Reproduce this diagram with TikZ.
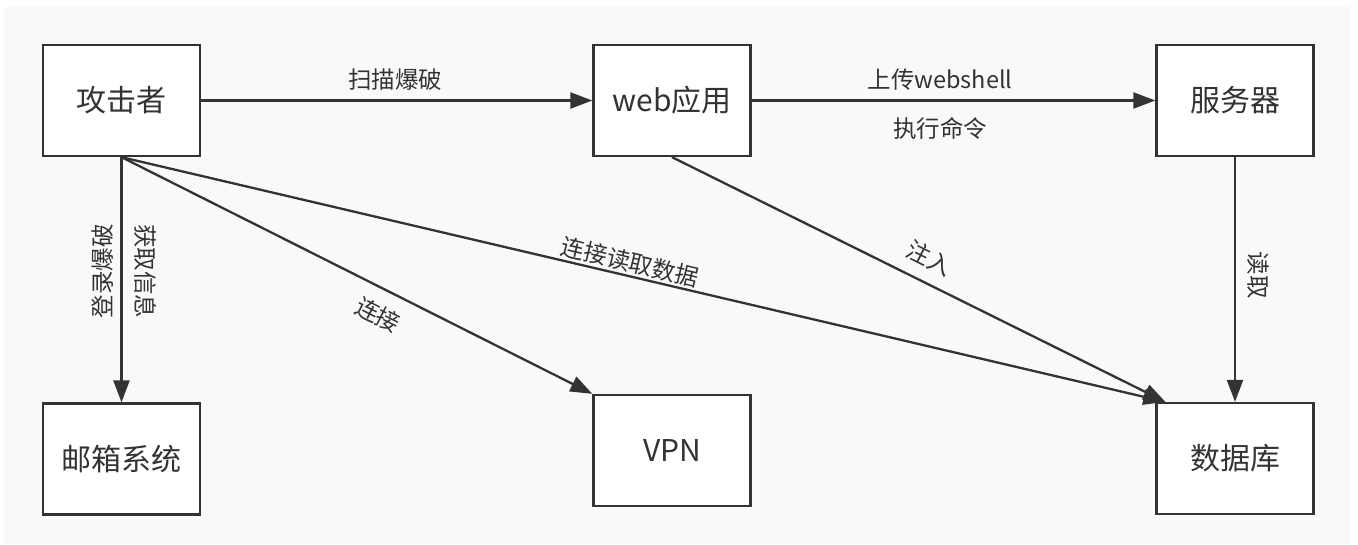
\documentclass[tikz,border=0pt]{standalone}
\usepackage{fontspec}
\setmainfont{Noto Sans CJK SC}
\usetikzlibrary{arrows.meta,calc}
\definecolor{ink}{HTML}{333333}
\definecolor{canvas}{HTML}{F9F9F9}
\begin{document}
\begin{tikzpicture}[x=1pt,y=-1pt,
  box/.style={draw=ink, line width=2.3pt, fill=white, minimum width=157pt,
    minimum height=111pt, inner sep=0pt, text=ink,
    font=\fontsize{30}{35}\selectfont},
  link/.style={draw=ink, line width=2.3pt, -{Triangle[length=22pt,width=16pt]}},
  lbl/.style={inner sep=0pt, text=ink, font=\fontsize{23.5}{28}\selectfont}]
  \useasboundingbox (0,0) rectangle (1358,544);
  \fill[canvas] (4,7) rectangle (1351,544);

  % boxes
  \node[box] (atk)  at (121.5,100.5) {攻击者};
  \node[box] (web)  at (672,100.5)   {web应用};
  \node[box] (srv)  at (1235,100.5)  {服务器};
  \node[box] (mail) at (121.5,459)   {邮箱系统};
  \node[box] (vpn)  at (672,450.5)   {VPN};
  \node[box] (db)   at (1235,458.5)  {数据库};

  % where the slanted arrows meet the database box
  \coordinate (dbin) at ($(db.north west)+(10,0)$);

  % connectors
  \draw[link] (atk.east) -- (web.west);
  \draw[link] (web.east) -- (srv.west);
  \draw[link] (atk.south) -- (mail.north);
  \draw[link] (atk.south) -- (vpn.north west);
  \draw[link] (atk.south) -- (dbin);
  \draw[link] (web.south) -- (dbin);
  \draw[link] (srv.south) -- (db.north);

  % connector labels
  \node[lbl] (l1) at (395,80)  {扫描爆破};
  \node[lbl] (l2) at (940,80)  {上传webshell};
  \node[lbl] (l3) at (940,128) {执行命令};
  \node[lbl, rotate=90]  (l4) at (103,271) {登录爆破};
  \node[lbl, rotate=-90] (l5) at (146,271) {获取信息};
  \node[lbl, rotate=-26.9] (l6) at (378,315) {连接};
  \node[lbl, rotate=-13.3] (l7) at (630,262) {连接读取数据};
  \node[lbl, rotate=-26.5] (l8) at (930,258) {注入};
  \node[lbl, rotate=-90] (l9) at (1258,275) {读取};
\end{tikzpicture}
\end{document}
